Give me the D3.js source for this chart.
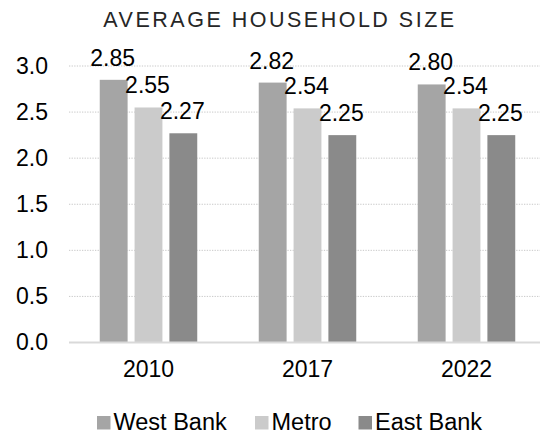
<!DOCTYPE html>
<html>
<head>
<meta charset="utf-8">
<script src="https://cdn.jsdelivr.net/npm/d3@7"></script>
<style>
  html, body { margin: 0; padding: 0; background: #fff; }
  svg { display: block; font-family: "Liberation Sans", Arial, sans-serif; }
</style>
</head>
<body>
<svg id="chart" width="540" height="437"></svg>
<script>
const categories = ["2010", "2017", "2022"];
const seriesNames = ["West Bank", "Metro", "East Bank"];
const westBank = [2.85, 2.82, 2.80];
const metro = [2.55, 2.54, 2.54];
const eastBank = [2.27, 2.25, 2.25];
const yTicks = [0.0, 0.5, 1.0, 1.5, 2.0, 2.5, 3.0];
const titleText = "AVERAGE HOUSEHOLD SIZE";

const seriesValues = [westBank, metro, eastBank];
const colors = ["#a5a5a5", "#cbcbcb", "#8a8a8a"];
const FONT = "Liberation Sans, Arial, sans-serif";

const svg = d3.select("#chart");

const x0 = d3.scaleBand().domain(categories).range([69, 546]).paddingInner(0).paddingOuter(0);
const x1 = d3.scaleBand().domain(seriesNames).range([0, 97.5]).paddingInner(0.2).paddingOuter(0);
const groupOffset = (x0.bandwidth() - 97.5) / 2;
const y = d3.scaleLinear().domain([0, 3]).range([342.5, 66]);

// title
svg.append("text")
  .attr("x", 280).attr("y", 27)
  .attr("text-anchor", "middle")
  .attr("font-size", 21.5)
  .attr("letter-spacing", 2.5)
  .attr("fill", "#262626")
  .text(titleText);

// gridlines
svg.append("g")
  .selectAll("line")
  .data(yTicks.filter(d => d > 0))
  .join("line")
  .attr("x1", 69).attr("x2", 540)
  .attr("y1", d => y(d)).attr("y2", d => y(d))
  .attr("stroke", "#c8c8c8")
  .attr("stroke-width", 1)
  .attr("stroke-dasharray", "1.3,1.3");

// y axis labels
const yAxis = d3.axisLeft(y).tickValues(yTicks).tickFormat(d3.format(".1f")).tickSize(0).tickPadding(0);
const yg = svg.append("g").attr("transform", "translate(48,0)").call(yAxis);
yg.select(".domain").remove();
yg.selectAll("text").attr("font-size", 23).attr("fill", "#000").attr("font-family", FONT);

// bars
const groups = svg.append("g").selectAll("g")
  .data(categories)
  .join("g")
  .attr("transform", d => `translate(${x0(d) + groupOffset},0)`);

groups.selectAll("rect")
  .data((d, i) => seriesNames.map((s, j) => ({ s, v: seriesValues[j][i], j })))
  .join("rect")
  .attr("x", d => x1(d.s))
  .attr("width", x1.bandwidth())
  .attr("y", d => y(d.v))
  .attr("height", d => y(0) - y(d.v))
  .attr("fill", d => colors[d.j]);

groups.selectAll("text")
  .data((d, i) => seriesNames.map((s, j) => ({ s, v: seriesValues[j][i], j })))
  .join("text")
  .attr("x", d => x1(d.s) + x1.bandwidth() / 2 - 1)
  .attr("y", d => y(d.v) - 14)
  .attr("text-anchor", "middle")
  .attr("font-size", 23)
  .attr("fill", "#000")
  .text(d => d.v.toFixed(2));

// baseline
svg.append("line")
  .attr("x1", 69).attr("x2", 540)
  .attr("y1", y(0)).attr("y2", y(0))
  .attr("stroke", "#d9d9d9").attr("stroke-width", 2);

// x axis labels
const xAxis = d3.axisBottom(x0).tickSize(0).tickPadding(0);
const xg = svg.append("g").attr("transform", `translate(0,${y(0) + 18})`).call(xAxis);
xg.select(".domain").remove();
xg.selectAll("text").attr("font-size", 23).attr("fill", "#000").attr("font-family", FONT);

// legend
const legendX = [97, 255, 358.5];
const legend = svg.append("g").selectAll("g")
  .data(seriesNames)
  .join("g")
  .attr("transform", (d, i) => `translate(${legendX[i]},416)`);
legend.append("rect").attr("width", 13.5).attr("height", 13.5).attr("fill", (d, i) => colors[i]);
legend.append("text").attr("x", 16.5).attr("y", 14).attr("font-size", 23.5).attr("fill", "#000").text(d => d);
</script>
</body>
</html>
